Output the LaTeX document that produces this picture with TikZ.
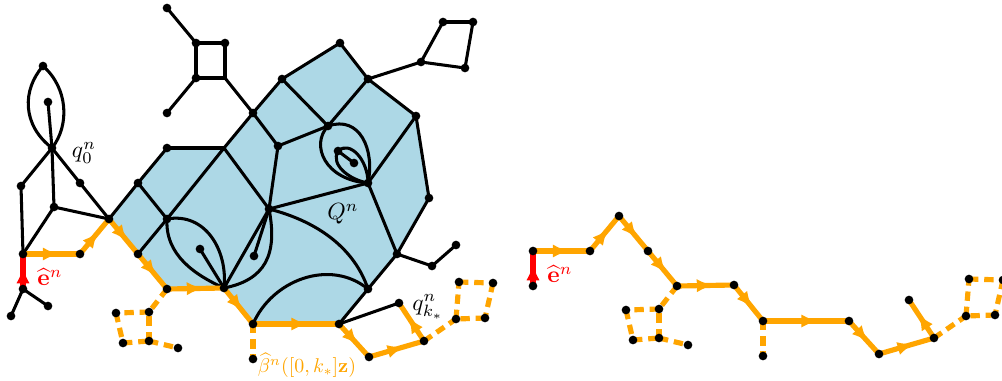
\documentclass[tikz,border=0pt]{standalone}
\usepackage{tikz}
\usetikzlibrary{arrows.meta,decorations.markings}

\definecolor{qblue}{RGB}{173,216,230}
\definecolor{betaorange}{RGB}{255,165,0}

\tikzset{
  blk/.style={line width=1.3pt, black},
  vtx/.style={circle, fill=black, inner sep=0pt, minimum size=1.3mm},
  betaseg/.style={line width=2.2pt, betaorange, postaction={decorate},
    decoration={markings, mark=at position 0.64 with {\arrow{Latex[length=2.5mm,width=2mm]}}}},
  betadash/.style={line width=2.2pt, betaorange, dash pattern=on 4pt off 2.5pt},
  eseg/.style={betaseg, red}
}

% points of the path (also reused for the shifted copy)
\newcommand{\betacoords}{%
  \coordinate (r0) at (23,289);
  \coordinate (s) at (23,254);
  \coordinate (o1) at (80,254);
  \coordinate (p1) at (109,219);
  \coordinate (p17) at (138,254);
  \coordinate (p16) at (167,289);
  \coordinate (p15) at (224,288);
  \coordinate (p14) at (253,324);
  \coordinate (p13) at (339,324);
  \coordinate (c1) at (369,357);
  \coordinate (c2) at (424,341);
  \coordinate (e1) at (399,303);
  \coordinate (sqa) at (149,312);
  \coordinate (sqb) at (116,313);
  \coordinate (sqc) at (123,343);
  \coordinate (sqd) at (149,341);
  \coordinate (sqe) at (178,348);
  \coordinate (dz) at (253,359);
  \coordinate (ka) at (456,319);
  \coordinate (kb) at (459,282);
  \coordinate (kc) at (493,283);
  \coordinate (kd) at (485,318);
}

\newcommand{\betadraw}{%
  \foreach \a/\b in {p16/sqa, sqa/sqb, sqb/sqc, sqc/sqd, sqd/sqa, sqd/sqe,
                     p14/dz, c2/ka, ka/kb, kb/kc, kc/kd, kd/ka}
    \draw[betadash] (\a) -- (\b);
  \foreach \a/\b in {s/o1, o1/p1, p1/p17, p17/p16, p16/p15, p15/p14,
                     p14/p13, p13/c1, c1/c2, c2/e1}
    \draw[betaseg] (\a) -- (\b);
  \draw[eseg] (r0) -- (s);
  \node[red] (elab) at (50,277) {$\widehat{\mathbf{e}}^n$};
  \foreach \n in {r0, s, o1, p1, p17, p16, p15, p14, p13, c1, c2, e1,
                  sqa, sqb, sqc, sqd, sqe, dz, ka, kb, kc, kd}
    \node[vtx] at (\n) {};
}

\begin{document}
\begin{tikzpicture}[x=0.15mm, y=-0.15mm]
  \useasboundingbox (0,0) rectangle (1002,380);
  \betacoords

  % left part
  \coordinate (lt) at (43,66);
  \coordinate (lin) at (48,102);
  \coordinate (q0) at (52,148);
  \coordinate (ll) at (21,186);
  \coordinate (lr) at (80,183);
  \coordinate (lmid) at (54,207);
  \coordinate (ra) at (11,316);
  \coordinate (rb) at (48,306);
  % little square on top
  \coordinate (tl) at (167,8);
  \coordinate (sq1) at (196,43);
  \coordinate (sq2) at (225,43);
  \coordinate (sq3) at (196,78);
  \coordinate (sq4) at (225,78);
  \coordinate (bl) at (167,113);
  % boundary of Q^n
  \coordinate (p2) at (138,183);
  \coordinate (p3) at (167,148);
  \coordinate (p4) at (224,148);
  \coordinate (p5) at (253,113);
  \coordinate (p6) at (282,79);
  \coordinate (p7) at (340,43);
  \coordinate (p8) at (368,79);
  \coordinate (p9) at (416,116);
  \coordinate (p10) at (429,198);
  \coordinate (p11) at (397,254);
  \coordinate (p12) at (368,289);
  % inside
  \coordinate (i1) at (167,219);
  \coordinate (i2) at (278,146);
  \coordinate (i3) at (328,126);
  \coordinate (i4) at (269,209);
  \coordinate (i5) at (368,183);
  \coordinate (d1) at (200,249);
  \coordinate (d2) at (254,256);
  \coordinate (d3) at (338,151);
  \coordinate (d4) at (354,163);
  % right hangers
  \coordinate (x1) at (421,62);
  \coordinate (x2) at (443,22);
  \coordinate (x3) at (473,22);
  \coordinate (x4) at (465,68);
  \coordinate (y1) at (432,266);
  \coordinate (y2) at (456,245);

  \fill[qblue] (p1) -- (p2) -- (p3) -- (p4) -- (p5) -- (p6) -- (p7) -- (p8) -- (p9)
    -- (p10) -- (p11) -- (p12) -- (p13) -- (p14) -- (p15) -- (p16) -- (p17) -- cycle;

  \foreach \a/\b in {lin/q0, q0/lmid, q0/ll, q0/lr, lr/p1, ll/s, s/lmid, lmid/p1,
                     r0/ra, r0/rb,
                     tl/sq1, sq1/sq2, sq2/sq4, sq4/sq3, sq3/sq1, sq3/bl, sq4/p5,
                     p1/p2, p2/p3, p3/p4, p4/p5, p5/p6, p6/p7, p7/p8, p8/p9,
                     p9/p10, p10/p11, p11/p12, p12/p13,
                     p2/i1, i1/p17, i1/p4, p4/i4, p5/i2, i2/i3, i2/i4, p6/i3, p8/i3,
                     i4/i5, i5/p9, i5/p11, i4/d2, i4/p15, d1/p15, d3/d4, p13/e1,
                     p8/x1, x1/x2, x2/x3, x3/x4, x4/x1, p11/y1, y1/y2}
    \draw[blk] (\a) -- (\b);

  \draw[blk] (q0) .. controls (22,125) and (22,90) .. (lt);
  \draw[blk] (q0) .. controls (70,125) and (68,88) .. (lt);
  \draw[blk] (i1) .. controls (205,212) and (228,250) .. (p15);
  \draw[blk] (i1) .. controls (165,255) and (195,275) .. (p15);
  \draw[blk] (i4) .. controls (278,255) and (265,280) .. (p15);
  \draw[blk] (i4) .. controls (320,222) and (355,250) .. (p12);
  \draw[blk] (p14) .. controls (272,280) and (330,258) .. (p12);
  \draw[blk] (i3) .. controls (310,145) and (325,180) .. (i5);
  \draw[blk] (i3) .. controls (360,115) and (375,150) .. (i5);
  \draw[blk] (d3) .. controls (330,165) and (350,180) .. (i5);
  \draw[blk] (d3) .. controls (350,140) and (368,160) .. (i5);

  \betadraw

  \foreach \n in {lt, lin, q0, ll, lr, lmid, ra, rb, tl, sq1, sq2, sq3, bl,
                  p2, p3, p5, p6, p7, p8, p9, p10, p11, p12,
                  i1, i2, i3, i4, i5, d1, d2, d3, d4, x1, x2, x3, x4, y1, y2}
    \node[vtx] at (\n) {};

  \node (q0lab) at (84,153) {$q_0^n$};
  \node (Qlab) at (343,214) {$Q^n$};
  \node (qklab) at (428,307) {$q_{k_*}^n$};
  \node[betaorange, scale=0.85] (betalab) at (307,365) {$\widehat{\beta}^n([0,k_*]\mathbf{z})$};

  % shifted copy of the path alone
  \begin{scope}[shift={(510,-3)}, name prefix=r-]
    \betacoords
    \betadraw
  \end{scope}
\end{tikzpicture}
\end{document}
